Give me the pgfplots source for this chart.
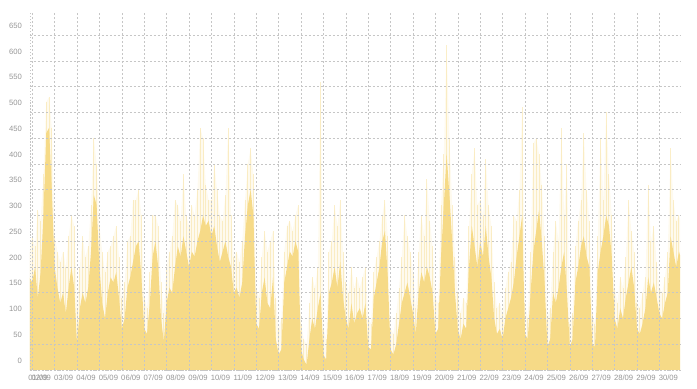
\documentclass[border=0pt]{standalone}
\usepackage{pgfplots}
\usepackage{pgfplotstable}
\pgfplotsset{compat=1.18}
\usetikzlibrary{calc}
\usepackage{fontspec}
\setmainfont{Liberation Sans}
\definecolor{fillc}{RGB}{246,218,135}
\definecolor{gridc}{RGB}{198,198,198}
\definecolor{tickc}{RGB}{150,150,150}
\pgfplotstableread{
base peak
180 230
170 260
200 240
140 310
190 290
300 380
460 520
470 530
350 470
200 260
160 230
130 210
150 230
110 200
160 260
200 300
160 280
50 120
120 200
150 260
130 220
160 240
230 320
340 450
320 400
200 280
130 230
100 190
150 230
180 240
170 260
190 280
140 220
80 140
100 170
160 250
180 260
210 330
240 330
250 350
180 300
80 140
70 120
130 190
220 300
250 300
200 280
100 170
55 110
130 200
160 230
150 260
200 330
240 320
220 290
260 380
230 300
200 280
230 320
220 300
250 350
270 470
300 450
280 360
290 330
260 330
280 400
240 350
210 300
230 290
250 340
220 470
200 300
150 220
160 230
140 210
170 250
260 330
320 400
350 430
300 380
90 160
80 140
150 220
180 270
130 230
120 250
180 270
60 140
30 80
40 100
170 230
200 280
230 290
220 270
250 300
230 320
40 90
20 60
10 50
60 130
100 180
80 160
120 200
150 560
30 80
20 60
150 230
170 250
200 320
160 280
210 330
140 230
100 170
80 150
130 200
90 160
110 180
120 160
100 180
130 200
45 100
40 90
140 190
170 220
200 250
250 300
270 330
180 260
40 80
30 70
50 110
90 160
130 220
150 300
170 260
140 230
110 190
70 120
150 230
190 300
170 260
200 370
180 290
150 240
70 140
80 130
220 320
320 420
420 630
340 450
250 320
150 220
80 150
60 110
90 140
80 130
200 280
280 380
240 430
200 320
250 330
220 300
280 410
220 320
180 280
100 170
70 120
80 130
60 110
100 160
120 190
140 210
170 300
220 290
260 350
300 510
70 130
60 100
150 230
230 440
270 450
310 420
250 360
170 260
45 100
60 120
150 230
130 290
160 250
200 470
230 300
150 400
45 90
60 110
170 240
200 290
240 330
260 460
220 350
200 290
50 110
45 90
190 260
230 450
260 330
300 500
280 380
220 300
100 160
80 130
120 180
100 160
140 220
170 330
200 270
160 230
80 130
70 120
90 150
120 180
180 360
150 250
170 280
140 210
110 160
100 150
130 180
150 230
260 430
230 330
200 290
230 300
210 280
}\datatable
\begin{document}
\begin{tikzpicture}
\begin{axis}[
  scale only axis,
  width=650bp, height=358bp,
  xmin=1.9, xmax=30.92,
  ymin=0, ymax=695,
  axis on top,
  clip=true,
  axis x line*=bottom, axis y line*=left,
  axis line style={gridc, line width=0.6pt, dash pattern=on 1.5pt off 1.5pt},
  major tick length=0pt,
  grid=major,
  major grid style={gridc, line width=0.6pt, dash pattern=on 2pt off 2pt},
  xtick={2,...,30},
  xticklabels={02/09,03/09,04/09,05/09,06/09,07/09,08/09,09/09,10/09,11/09,12/09,13/09,14/09,15/09,16/09,17/09,18/09,19/09,20/09,21/09,22/09,23/09,24/09,25/09,26/09,27/09,28/09,29/09,30/09},
  extra x ticks={1.9},
  extra x tick labels={01/09},
  extra x tick style={grid=none, xticklabel style={xshift=-1bp}},
  ytick={0,50,...,650},
  /pgf/number format/assume math mode=true,
  tick label style={font=\fontsize{7.7}{8}\selectfont, text=tickc},
  xticklabel style={xshift=9bp, yshift=-1bp},
  yticklabel style={yshift=9.5bp, xshift=-4.5bp},
]
\addplot[draw=none, fill=fillc, fill opacity=0.14] table[x expr=\coordindex/8+1.875, y=peak] {\datatable} \closedcycle;
\addplot[ycomb, draw=fillc, draw opacity=0.42, line width=1bp, mark=none] table[x expr=\coordindex/8+1.875, y=peak] {\datatable};
\addplot[draw=none, fill=fillc] table[x expr=\coordindex/8+1.875, y=base] {\datatable} \closedcycle;
\end{axis}
\pgfresetboundingbox
\path ($(current axis.south west)+(-30bp,-19bp)$) rectangle ($(current axis.north east)+(17bp,12bp)$);
\end{tikzpicture}
\end{document}
